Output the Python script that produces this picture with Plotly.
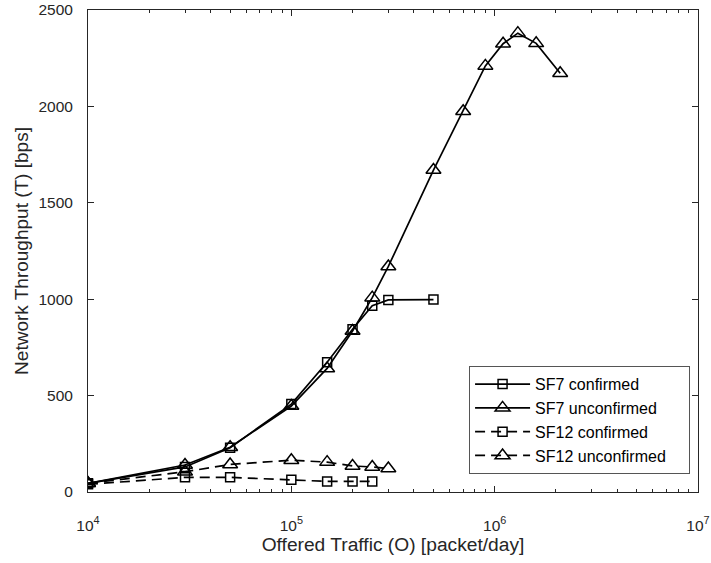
import plotly.graph_objects as go

# Offered traffic (packet/day)
x_sf7_conf = [1e4, 3e4, 5e4, 1e5, 1.5e5, 2e5, 2.5e5, 3e5, 5e5]
y_sf7_conf = [45, 130, 230, 456, 673, 844, 966, 996, 998]

x_sf7_unconf = [1e4, 3e4, 5e4, 1e5, 1.5e5, 2e5, 2.5e5, 3e5, 5e5, 7e5, 9e5, 1.1e6, 1.3e6, 1.6e6, 2.1e6]
y_sf7_unconf = [45, 140, 232, 446, 641, 835, 1008, 1170, 1670, 1975, 2210, 2325, 2380, 2327, 2172]

x_sf12_conf = [1e4, 3e4, 5e4, 1e5, 1.5e5, 2e5, 2.5e5]
y_sf12_conf = [40, 76, 76, 64, 55, 55, 55]

x_sf12_unconf = [1e4, 3e4, 5e4, 1e5, 1.5e5, 2e5, 2.5e5, 3e5]
y_sf12_unconf = [45, 105, 143, 165, 155, 135, 130, 122]

series_names = ["SF7 confirmed", "SF7 unconfirmed", "SF12 confirmed", "SF12 unconfirmed"]

x_ticks = [1e4, 1e5, 1e6, 1e7]
x_tick_labels = ["10<sup>4</sup>", "10<sup>5</sup>", "10<sup>6</sup>", "10<sup>7</sup>"]
x_minor = [m * d for d in (1e4, 1e5, 1e6) for m in range(2, 10)]
y_ticks = [0, 500, 1000, 1500, 2000, 2500]

FONT = "Liberation Sans, Arial, sans-serif"
AX = "#262626"
PAD = "\u00a0" * 4  # right padding inside legend box

fig = go.Figure()

def add(x, y, name, symbol, size, dash):
    fig.add_trace(go.Scatter(
        x=x, y=y, name=name + PAD, mode="lines+markers",
        line=dict(color="black", width=1.7, dash=dash),
        marker=dict(symbol=symbol, size=size, color="black",
                    line=dict(color="black", width=1.5)),
    ))

add(x_sf7_conf, y_sf7_conf, series_names[0], "square-open", 9, "solid")
add(x_sf7_unconf, y_sf7_unconf, series_names[1], "triangle-up-open", 13, "solid")
add(x_sf12_conf, y_sf12_conf, series_names[2], "square-open", 9, "10px,6px")
add(x_sf12_unconf, y_sf12_unconf, series_names[3], "triangle-up-open", 13, "10px,6px")

fig.update_layout(
    width=711, height=563,
    margin=dict(l=88, r=13, t=10, b=71),
    plot_bgcolor="white", paper_bgcolor="white",
    font=dict(family=FONT, size=15, color=AX),
    showlegend=True,
    legend=dict(
        x=0.987, y=0.037, xanchor="right", yanchor="bottom",
        bgcolor="white", bordercolor="#555555", borderwidth=1,
        font=dict(family=FONT, size=16, color="black"),
        tracegroupgap=0, itemwidth=55,
    ),
    xaxis=dict(
        type="log", range=[4, 7], automargin=False,
        tickmode="array", tickvals=x_ticks, ticktext=x_tick_labels,
        ticks="inside", ticklen=6, tickcolor=AX, tickwidth=1,
        ticklabelstandoff=19, ticklabeloverflow="allow",
        minor=dict(tickmode="array", tickvals=x_minor, ticks="inside",
                   ticklen=3, tickcolor=AX, showgrid=False),
        showline=True, linecolor=AX, linewidth=1, mirror="ticks",
        showgrid=False, zeroline=False,
        title=dict(text="Offered Traffic (O) [packet/day]", font=dict(size=19.2), standoff=4),
        tickfont=dict(size=15.5),
    ),
    yaxis=dict(
        range=[0, 2500], automargin=False,
        tickmode="array", tickvals=y_ticks,
        ticks="inside", ticklen=6, tickcolor=AX, tickwidth=1,
        ticklabelstandoff=11,
        showline=True, linecolor=AX, linewidth=1, mirror="ticks",
        showgrid=False, zeroline=False,
        title=dict(text="Network Throughput (T) [bps]", font=dict(size=19), standoff=4),
        tickfont=dict(size=15.5),
    ),
)

fig.write_html(
    "out.html",
    config={"displayModeBar": False},
    post_script="document.body.style.margin='0px';document.body.style.overflow='hidden';",
)
